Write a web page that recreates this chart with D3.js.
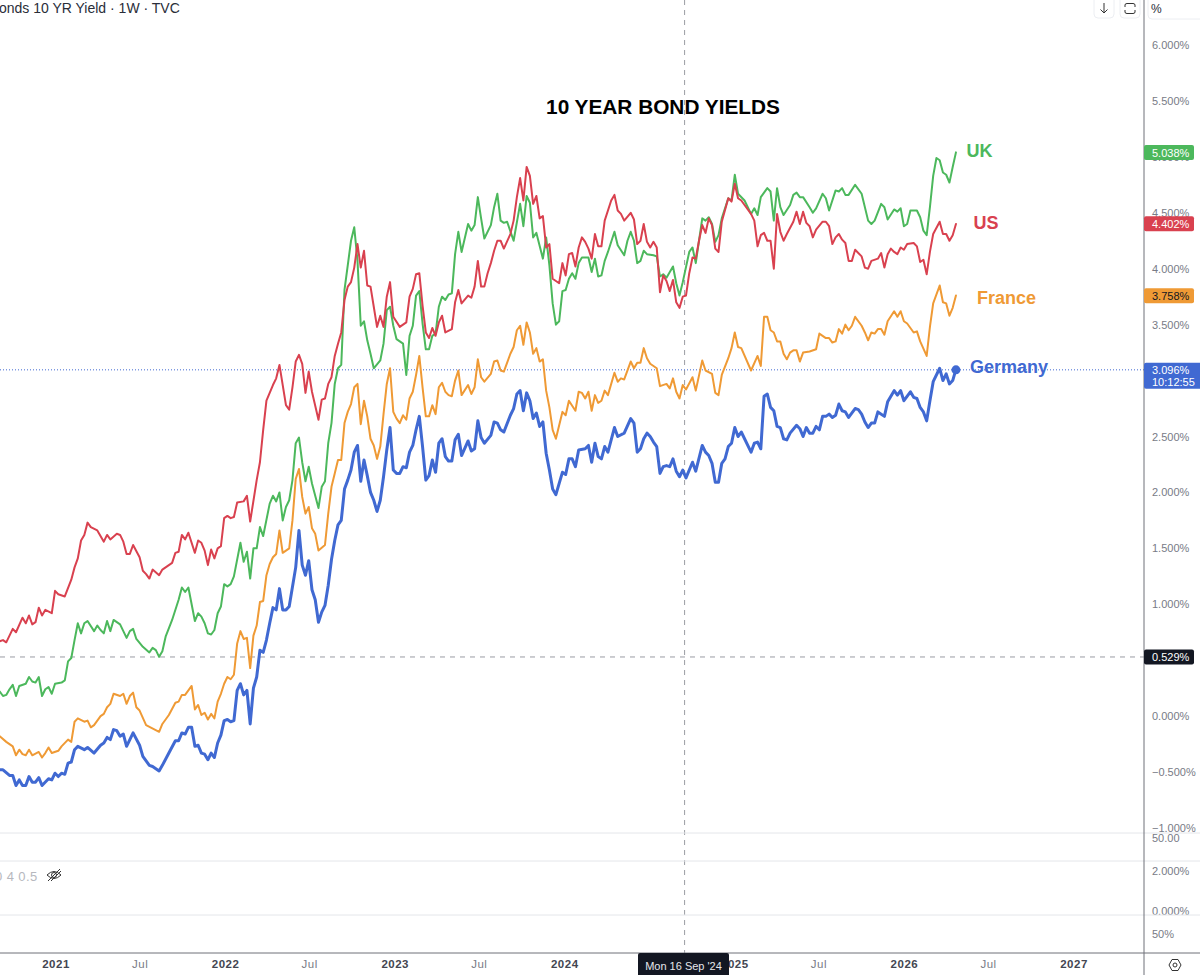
<!DOCTYPE html>
<html><head><meta charset="utf-8">
<script src="https://cdn.jsdelivr.net/npm/d3@7"></script>
<style>html,body{margin:0;padding:0;background:#fff;overflow:hidden}svg{display:block;font-family:"Liberation Sans",Arial,sans-serif}</style>
</head><body><svg id="c" width="1200" height="975"></svg>
<script>
// Series: [weeks since the first bar, 10-year yield %]
const firstBar = new Date(2020, 8, 3);
const usYield = [[0,.67],[1,.68],[2,.66],[4,.78],[5,.75],[7,.88],[8,.83],[9,.90],[10,.82],[11,.84],[12,.97],[13,.90],[14,.95],[16,.92],[17,1.12],[18,1.09],[20,1.07],[22,1.22],[23,1.33],[24,1.41],[25,1.57],[26,1.62],[27,1.73],[28,1.69],[30,1.66],[32,1.56],[33,1.62],[34,1.58],[36,1.63],[37,1.62],[38,1.56],[39,1.45],[40,1.45],[41,1.53],[43,1.42],[44,1.30],[45,1.27],[46,1.23],[47,1.31],[49,1.26],[50,1.31],[53,1.37],[54,1.46],[55,1.47],[56,1.62],[57,1.58],[58,1.64],[60,1.46],[61,1.57],[62,1.55],[63,1.48],[64,1.35],[65,1.49],[66,1.41],[67,1.50],[68,1.52],[69,1.77],[70,1.79],[71,1.77],[72,1.78],[73,1.91],[75,1.92],[76,1.97],[77,1.74],[79,2.11],[80,2.27],[81,2.56],[82,2.82],[83,2.89],[84,2.96],[85,3.02],[86,3.14],[88,2.78],[89,2.74],[90,2.94],[91,3.17],[92,3.23],[93,3.15],[94,2.89],[95,3.08],[96,2.90],[98,2.65],[99,2.83],[100,2.84],[101,2.97],[102,3.03],[103,3.22],[104,3.33],[105,3.43],[106,3.72],[107,3.84],[108,3.88],[109,4.01],[110,4.22],[111,4.01],[112,4.16],[113,3.85],[114,3.84],[115,3.66],[116,3.48],[117,3.58],[118,3.48],[119,3.75],[120,3.88],[121,3.57],[123,3.48],[125,3.52],[126,3.75],[127,3.82],[128,3.95],[129,3.96],[130,3.67],[131,3.43],[132,3.38],[133,3.47],[134,3.40],[135,3.52],[136,3.58],[137,3.43],[139,3.46],[140,3.70],[141,3.81],[142,3.69],[144,3.76],[145,3.74],[146,3.84],[147,4.07],[148,3.84],[149,3.84],[150,3.96],[151,4.05],[152,4.16],[153,4.25],[154,4.25],[155,4.18],[157,4.31],[158,4.43],[159,4.64],[160,4.81],[161,4.61],[162,4.91],[163,4.83],[164,4.58],[165,4.65],[166,4.45],[167,4.47],[168,4.19],[169,4.22],[170,3.91],[172,3.87],[173,4.05],[174,3.94],[175,4.13],[176,4.14],[177,4.02],[178,4.19],[179,4.28],[180,4.24],[181,4.18],[182,4.09],[183,4.31],[184,4.20],[185,4.20],[186,4.43],[188,4.61],[189,4.66],[190,4.52],[191,4.49],[192,4.43],[194,4.50],[195,4.44],[196,4.22],[197,4.25],[198,4.40],[199,4.24],[200,4.19],[201,4.24],[202,4.19],[203,3.79],[204,3.94],[205,3.89],[206,3.80],[207,3.90],[208,3.70],[209,3.65],[210,3.75],[211,3.76],[212,3.96],[213,4.10],[214,4.09],[215,4.25],[216,4.39],[217,4.32],[218,4.45],[219,4.39],[220,4.18],[221,4.15],[222,4.42],[224,4.63],[225,4.60],[226,4.76],[227,4.63],[228,4.61],[231,4.49],[232,4.43],[233,4.20],[234,4.30],[235,4.32],[236,4.25],[237,4.25],[238,4.00],[239,4.49],[240,4.33],[241,4.25],[242,4.31],[244,4.42],[245,4.51],[246,4.40],[247,4.51],[248,4.41],[249,4.38],[250,4.28],[251,4.35],[253,4.42],[254,4.42],[255,4.38],[256,4.22],[257,4.28],[258,4.31],[259,4.26],[260,4.23],[261,4.07],[262,4.07],[263,4.17],[265,4.11],[266,4.01],[267,4.00],[268,4.07],[270,4.09],[271,4.14],[272,4.01],[273,4.13],[274,4.18],[275,4.15],[276,4.13],[277,4.19],[278,4.17],[279,4.22],[281,4.23],[282,4.20],[283,4.06],[284,4.08],[285,3.95],[286,4.15],[287,4.31],[289,4.42],[290,4.31],[291,4.31],[292,4.25],[293,4.30],[294,4.40]];
const ukYield = [[0,.22],[1,.18],[2,.19],[3,.24],[4,.28],[5,.18],[6,.27],[8,.29],[9,.35],[10,.31],[11,.30],[12,.35],[13,.18],[14,.24],[15,.26],[16,.20],[17,.29],[19,.30],[20,.32],[21,.49],[22,.52],[23,.68],[24,.83],[25,.74],[26,.83],[27,.85],[29,.76],[30,.81],[31,.77],[32,.74],[33,.85],[34,.76],[35,.86],[37,.82],[39,.70],[40,.76],[41,.78],[42,.69],[44,.62],[46,.57],[47,.61],[48,.59],[49,.53],[50,.58],[51,.71],[53,.86],[55,1.04],[56,1.15],[57,1.11],[58,1.15],[60,.85],[61,.92],[62,.89],[63,.83],[64,.74],[65,.73],[66,.77],[67,.92],[68,.98],[69,1.18],[70,1.16],[71,1.18],[72,1.25],[74,1.55],[75,1.38],[76,1.47],[77,1.23],[78,1.50],[79,1.50],[80,1.69],[81,1.61],[83,1.90],[84,1.97],[85,1.92],[86,2.00],[87,1.75],[88,1.87],[89,1.93],[90,2.11],[91,2.44],[92,2.49],[93,2.27],[94,2.10],[95,2.23],[96,2.08],[98,1.86],[99,2.05],[100,2.10],[101,2.44],[102,2.62],[103,2.97],[104,3.11],[105,3.14],[106,3.81],[107,4.03],[108,4.25],[109,4.37],[110,4.07],[111,3.49],[112,3.53],[113,3.36],[114,3.24],[115,3.11],[117,3.18],[118,3.33],[119,3.63],[120,3.66],[121,3.49],[122,3.37],[124,3.33],[125,3.05],[126,3.40],[127,3.49],[128,3.76],[129,3.80],[130,3.51],[131,3.28],[132,3.28],[133,3.40],[134,3.42],[135,3.66],[136,3.75],[137,3.72],[138,3.77],[139,3.78],[140,4.13],[141,4.33],[142,4.15],[144,4.40],[145,4.34],[146,4.39],[147,4.64],[148,4.45],[149,4.27],[151,4.39],[152,4.55],[153,4.67],[154,4.43],[155,4.41],[156,4.42],[158,4.25],[160,4.58],[161,4.38],[162,4.65],[163,4.59],[164,4.28],[165,4.32],[167,4.09],[168,4.28],[169,4.03],[170,3.69],[171,3.50],[172,3.53],[173,3.80],[174,3.81],[175,3.91],[176,3.96],[177,3.91],[178,4.05],[179,4.10],[180,4.10],[181,4.10],[182,3.97],[183,4.09],[184,3.93],[185,3.94],[186,4.07],[187,4.15],[189,4.33],[190,4.21],[192,4.12],[193,4.25],[194,4.33],[195,4.25],[196,4.05],[197,4.07],[198,4.16],[199,4.13],[201,4.12],[202,4.11],[203,3.93],[204,3.95],[205,3.92],[207,4.02],[208,3.87],[209,3.76],[210,3.88],[212,4.15],[213,4.19],[214,4.05],[215,4.25],[216,4.45],[217,4.43],[218,4.46],[219,4.40],[220,4.24],[221,4.30],[222,4.45],[224,4.63],[225,4.61],[226,4.84],[227,4.67],[229,4.61],[231,4.49],[232,4.54],[233,4.48],[234,4.64],[235,4.68],[236,4.72],[237,4.69],[238,4.43],[239,4.72],[240,4.55],[241,4.48],[243,4.57],[244,4.66],[245,4.68],[246,4.64],[247,4.64],[249,4.55],[250,4.50],[251,4.54],[253,4.67],[254,4.63],[255,4.52],[257,4.70],[258,4.69],[259,4.72],[260,4.66],[261,4.66],[263,4.75],[265,4.67],[267,4.43],[268,4.40],[269,4.43],[271,4.58],[272,4.55],[273,4.44],[275,4.53],[276,4.51],[277,4.54],[278,4.38],[279,4.40],[280,4.52],[282,4.52],[283,4.46],[284,4.34],[285,4.30],[286,4.55],[287,4.83],[288,4.99],[289,4.97],[290,4.86],[291,4.84],[292,4.77],[293,4.91],[294,5.04]];
const franceYield = [[0,-.18],[2,-.23],[3,-.25],[4,-.27],[5,-.35],[6,-.30],[7,-.34],[8,-.35],[9,-.30],[10,-.35],[12,-.32],[13,-.37],[14,-.33],[15,-.28],[16,-.33],[18,-.31],[19,-.27],[21,-.21],[22,-.23],[23,-.05],[24,-.02],[26,-.05],[27,-.04],[28,-.10],[29,-.08],[31,0],[32,.02],[33,.08],[34,.11],[35,.20],[37,.18],[38,.20],[39,.11],[40,.18],[41,.21],[42,.08],[43,.05],[45,-.08],[49,-.14],[50,-.07],[52,.01],[54,.12],[55,.13],[56,.19],[57,.19],[59,.27],[60,.06],[61,.10],[62,.01],[63,.03],[64,-.03],[65,.02],[66,-.02],[67,.13],[68,.20],[69,.29],[70,.35],[71,.33],[72,.37],[73,.65],[74,.76],[75,.69],[76,.70],[77,.43],[78,.72],[79,.81],[80,1.02],[81,1.03],[82,1.26],[83,1.36],[84,1.42],[85,1.45],[86,1.66],[87,1.46],[89,1.50],[90,1.75],[91,2.12],[92,2.21],[93,1.96],[94,1.81],[95,1.87],[96,1.68],[97,1.63],[98,1.48],[100,1.53],[101,1.81],[102,2.05],[103,2.17],[104,2.29],[105,2.29],[106,2.62],[107,2.72],[108,2.79],[109,2.94],[110,2.97],[111,2.61],[112,2.82],[113,2.68],[114,2.48],[115,2.42],[116,2.30],[117,2.41],[118,2.70],[119,2.97],[120,3.11],[121,2.72],[122,2.66],[123,2.62],[124,2.69],[125,2.65],[126,2.84],[127,2.90],[128,3.05],[129,3.22],[130,2.94],[131,2.68],[132,2.68],[133,2.78],[134,2.70],[135,2.94],[136,2.98],[137,2.90],[138,2.87],[139,2.86],[140,3.00],[141,3.09],[142,2.87],[144,2.96],[145,2.88],[146,2.94],[147,3.19],[148,3.03],[149,2.99],[151,3.06],[152,3.17],[153,3.18],[154,3.09],[155,3.08],[157,3.24],[158,3.30],[159,3.45],[160,3.49],[161,3.32],[162,3.52],[163,3.43],[164,3.24],[165,3.29],[166,3.17],[167,3.19],[168,2.91],[169,2.76],[170,2.56],[171,2.48],[173,2.72],[174,2.69],[175,2.82],[177,2.73],[178,2.90],[179,2.89],[180,2.84],[181,2.90],[182,2.73],[183,2.87],[184,2.80],[185,2.82],[186,2.91],[187,2.87],[189,3.07],[190,2.99],[191,3.02],[192,3.01],[194,3.17],[195,3.11],[196,3.16],[197,3.16],[198,3.29],[199,3.20],[200,3.15],[202,3.11],[203,2.95],[205,2.97],[206,2.93],[207,3.02],[208,2.90],[209,2.84],[210,2.96],[211,2.92],[213,3.03],[214,2.91],[216,3.18],[217,3.09],[219,3.06],[220,2.89],[221,2.87],[222,3.05],[224,3.20],[225,3.29],[226,3.43],[227,3.30],[228,3.29],[231,3.09],[233,3.22],[234,3.13],[235,3.57],[236,3.57],[237,3.45],[238,3.43],[239,3.35],[240,3.35],[241,3.24],[242,3.19],[243,3.25],[244,3.27],[245,3.27],[246,3.17],[247,3.25],[249,3.26],[251,3.28],[252,3.42],[254,3.38],[255,3.38],[256,3.34],[257,3.35],[258,3.46],[259,3.42],[260,3.50],[261,3.45],[262,3.49],[263,3.57],[265,3.49],[266,3.43],[267,3.36],[268,3.43],[269,3.42],[270,3.46],[271,3.46],[272,3.41],[273,3.53],[275,3.62],[276,3.57],[277,3.62],[278,3.53],[279,3.51],[281,3.43],[282,3.44],[283,3.35],[285,3.22],[286,3.48],[287,3.69],[289,3.85],[290,3.70],[291,3.69],[292,3.58],[293,3.65],[294,3.76]];
const germanyYield = [[0,-.48],[1,-.48],[3,-.53],[4,-.53],[5,-.62],[6,-.57],[7,-.62],[8,-.62],[9,-.54],[10,-.59],[11,-.59],[12,-.55],[13,-.62],[15,-.56],[16,-.57],[17,-.51],[18,-.54],[19,-.51],[20,-.52],[21,-.42],[22,-.41],[23,-.30],[24,-.27],[26,-.30],[27,-.28],[29,-.33],[31,-.26],[32,-.24],[33,-.19],[34,-.21],[35,-.12],[36,-.13],[37,-.18],[38,-.16],[39,-.27],[41,-.15],[43,-.26],[44,-.36],[46,-.44],[47,-.45],[48,-.47],[49,-.49],[50,-.44],[52,-.33],[54,-.22],[55,-.22],[56,-.15],[57,-.16],[58,-.10],[59,-.10],[60,-.27],[61,-.26],[62,-.33],[63,-.34],[64,-.39],[65,-.33],[66,-.37],[67,-.24],[68,-.17],[69,-.04],[70,-.03],[71,-.05],[72,-.04],[73,.23],[74,.29],[75,.19],[76,.23],[77,-.07],[78,.25],[79,.35],[80,.59],[81,.57],[82,.68],[83,.83],[84,.97],[85,.95],[86,1.14],[87,.95],[88,.95],[89,.98],[91,1.33],[92,1.66],[93,1.35],[94,1.26],[95,1.39],[96,1.13],[97,1.04],[98,.84],[99,.93],[100,.99],[101,1.17],[102,1.40],[103,1.57],[104,1.71],[105,1.75],[106,2.03],[107,2.11],[108,2.20],[109,2.36],[110,2.42],[111,2.10],[112,2.29],[113,2.15],[114,2.00],[115,1.93],[116,1.83],[117,1.93],[118,2.14],[119,2.38],[120,2.58],[121,2.20],[122,2.17],[123,2.17],[124,2.23],[125,2.22],[126,2.36],[127,2.42],[128,2.56],[129,2.68],[130,2.41],[131,2.11],[132,2.15],[133,2.29],[134,2.18],[135,2.44],[136,2.48],[137,2.32],[138,2.28],[139,2.28],[140,2.47],[141,2.52],[142,2.33],[144,2.46],[145,2.37],[146,2.39],[147,2.64],[148,2.49],[149,2.44],[151,2.51],[152,2.63],[153,2.62],[154,2.56],[155,2.54],[157,2.69],[158,2.75],[159,2.88],[160,2.91],[161,2.73],[162,2.89],[163,2.82],[164,2.66],[165,2.71],[166,2.59],[167,2.63],[168,2.35],[169,2.20],[170,2.03],[171,1.98],[173,2.18],[174,2.16],[175,2.30],[176,2.30],[177,2.23],[178,2.38],[180,2.39],[181,2.42],[182,2.27],[183,2.44],[184,2.32],[185,2.30],[186,2.41],[187,2.36],[189,2.58],[190,2.50],[192,2.53],[194,2.66],[195,2.62],[196,2.36],[197,2.39],[198,2.48],[199,2.53],[200,2.50],[201,2.45],[202,2.41],[203,2.17],[204,2.23],[205,2.24],[206,2.23],[207,2.30],[208,2.19],[209,2.14],[210,2.20],[211,2.13],[213,2.27],[214,2.19],[216,2.42],[217,2.36],[218,2.33],[219,2.26],[220,2.09],[221,2.09],[222,2.26],[223,2.30],[224,2.41],[225,2.44],[226,2.58],[227,2.50],[228,2.54],[231,2.36],[232,2.44],[233,2.45],[234,2.39],[235,2.86],[236,2.88],[237,2.76],[238,2.73],[239,2.59],[240,2.58],[241,2.48],[242,2.47],[243,2.53],[245,2.60],[246,2.57],[247,2.50],[248,2.58],[249,2.53],[250,2.53],[251,2.59],[252,2.56],[253,2.68],[254,2.68],[255,2.70],[256,2.67],[257,2.69],[258,2.79],[259,2.73],[260,2.72],[261,2.67],[263,2.75],[264,2.74],[265,2.70],[266,2.63],[267,2.58],[268,2.62],[269,2.62],[270,2.72],[272,2.68],[273,2.81],[275,2.91],[276,2.87],[277,2.91],[278,2.82],[280,2.90],[281,2.85],[282,2.84],[283,2.76],[284,2.72],[285,2.64],[286,2.82],[287,2.99],[289,3.11],[290,3.00],[291,3.06],[292,2.97],[293,3.00],[294,3.10]];

const seriesNames = ["France","UK","US","Germany"];
const seriesColors = ["#ef9a35","#4cb85c","#d9414f","#4069d2"];
const seriesWidths = [2,2,2,3];
const seriesLabels = [[1006.5,298],[979.5,151],[986,223],[1009,367]];

const yTicks = [6,5.5,5,4.5,4,3.5,2.5,2,1.5,1,0,-.5,-1];
const timeTicks = [[2021,0,"2021",1],[2021,6,"Jul",0],[2022,0,"2022",1],[2022,6,"Jul",0],[2023,0,"2023",1],[2023,6,"Jul",0],[2024,0,"2024",1],[2025,0,"2025",1],[2025,6,"Jul",0],[2026,0,"2026",1],[2026,6,"Jul",0],[2027,0,"2027",1]];
const tagValues = [[5.038,"#4cb85c","#fff","5.038%",null],[4.402,"#d9414f","#fff","4.402%",null],[3.758,"#ef9a35","#131722","3.758%",null],[3.096,"#4069d2","#fff","3.096%","10:12:55"],[.529,"#131722","#fff","0.529%",null]];
const crossDate = new Date(2024,8,16), crossValue = .529, lastValue = 3.096;
const paneLines = [833,861,915];
const paneLabels = [["50.00",838],["2.000%",871],["0.000%",911],["50%",934]];

const svg = d3.select("#c");
const x = d3.scaleTime().domain([new Date(2021,0,1),new Date(2027,0,1)]).range([55.5,1073.5]);
const y = d3.scaleLinear().domain([6,-1]).range([45,828]);
const axisX = 1144, axisY = 953;
const grey = "#787b86";
const toDate = w => d3.timeDay.offset(firstBar, w*7);

// Crosshairs and last-price line
svg.append("line").attr("x1",x(crossDate)).attr("x2",x(crossDate)).attr("y1",0).attr("y2",axisY).attr("stroke","#9a9ca3").attr("stroke-width",1).attr("stroke-dasharray","5 5");
svg.append("line").attr("x1",0).attr("x2",axisX).attr("y1",y(crossValue)).attr("y2",y(crossValue)).attr("stroke","#9a9ca3").attr("stroke-width",1).attr("stroke-dasharray","5 5");
svg.append("line").attr("x1",0).attr("x2",axisX).attr("y1",y(lastValue)).attr("y2",y(lastValue)).attr("stroke","#4069d2").attr("stroke-width",1).attr("stroke-dasharray","1 2");

// Lines
const line = d3.line().x(d=>x(toDate(d[0]))).y(d=>y(d[1])).curve(d3.curveLinear);
const seriesData = [franceYield,ukYield,usYield,germanyYield];
seriesData.forEach((s,i)=>{
  svg.append("path").datum(s).attr("d",line).attr("fill","none").attr("stroke",seriesColors[i]).attr("stroke-width",seriesWidths[i]).attr("stroke-linejoin","round").attr("stroke-linecap","round");
});
svg.append("circle").attr("cx",x(toDate(294))).attr("cy",y(lastValue)).attr("r",4.5).attr("fill","#4069d2");

// Series labels and title
seriesNames.forEach((n,i)=>{
  svg.append("text").attr("x",seriesLabels[i][0]).attr("y",seriesLabels[i][1]).attr("text-anchor","middle").attr("dominant-baseline","central").attr("font-size",18).attr("font-weight",700).attr("fill",seriesColors[i]).text(n);
});
svg.append("text").attr("x",663).attr("y",106).attr("text-anchor","middle").attr("dominant-baseline","central").attr("font-size",20.8).attr("font-weight",700).attr("fill","#000").text("10 YEAR BOND YIELDS");

// Header
svg.append("text").attr("x",-1).attr("y",8).attr("dominant-baseline","central").attr("font-size",14).attr("fill","#2a2e39").text("onds 10 YR Yield · 1W · TVC");
[[1094,20],[1120,20]].forEach(b=>svg.append("rect").attr("x",b[0]).attr("y",-6).attr("width",b[1]).attr("height",24).attr("rx",4).attr("fill","#fff").attr("stroke","#eceef2"));
svg.append("path").attr("d","M1104 3V13M1100.5 9.5L1104 13L1107.5 9.5").attr("fill","none").attr("stroke","#333");
svg.append("path").attr("d","M1125 7V5Q1125 3.5 1127 3.5H1133Q1135 3.5 1135 5V7M1125 10V12Q1125 13.5 1127 13.5H1133Q1135 13.5 1135 12V10").attr("fill","none").attr("stroke","#333");
svg.append("rect").attr("x",1148).attr("y",-6).attr("width",60).attr("height",25).attr("rx",4).attr("fill","#fff").attr("stroke","#eceef2");
svg.append("text").attr("x",1151).attr("y",9).attr("dominant-baseline","central").attr("font-size",12).attr("fill","#2a2e39").text("%");

// Price axis
const yAxis = d3.axisRight(y).tickValues(yTicks).tickSize(0).tickPadding(8).tickFormat(d=>d3.format(".3f")(d)+"%");
const gy = svg.append("g").attr("transform",`translate(${axisX},0)`).call(yAxis);
gy.select(".domain").remove();
gy.selectAll("text").attr("font-size",11).attr("font-family","'Liberation Sans',Arial,sans-serif").attr("fill",grey);

// Indicator pane labels
paneLabels.forEach(p=>svg.append("text").attr("x",axisX+8).attr("y",p[1]).attr("dominant-baseline","central").attr("font-size",11).attr("fill",grey).text(p[0]));
svg.append("rect").attr("x",axisX).attr("y",915).attr("width",56).attr("height",12).attr("fill","#fff");
paneLines.forEach(v=>svg.append("line").attr("x1",0).attr("x2",1200).attr("y1",v).attr("y2",v).attr("stroke","#e4e6ea").attr("stroke-width",1));
svg.append("text").attr("x",-5).attr("y",876).attr("dominant-baseline","central").attr("font-size",13).attr("letter-spacing",.4).attr("fill","#b6b8be").text("0 4 0.5");
svg.append("path").attr("d","M47 875Q54 868 61 875Q54 882 47 875ZM48 881L60 869M51 881L61 871").attr("fill","none").attr("stroke","#333");
svg.append("circle").attr("cx",54).attr("cy",875).attr("r",2.5).attr("fill","none").attr("stroke","#333");

// Axes frames
svg.append("line").attr("x1",axisX).attr("x2",axisX).attr("y1",0).attr("y2",975).attr("stroke","#6f7178").attr("stroke-width",1);
svg.append("line").attr("x1",0).attr("x2",1200).attr("y1",axisY).attr("y2",axisY).attr("stroke","#6f7178").attr("stroke-width",1);

// Price tags
tagValues.forEach(t=>{
  const h = t[4]?26:15, cy = y(t[0]), top = t[4]?cy-7:cy-7.5;
  svg.append("rect").attr("x",axisX).attr("y",top).attr("width",t[4]?60:50).attr("height",h).attr("rx",2).attr("fill",t[1]);
  svg.append("text").attr("x",axisX+8).attr("y",cy).attr("dominant-baseline","central").attr("font-size",11).attr("fill",t[2]).text(t[3]);
  if(t[4]) svg.append("text").attr("x",axisX+8).attr("y",cy+12).attr("dominant-baseline","central").attr("font-size",11).attr("fill",t[2]).text(t[4]);
});

// Time axis
const xTickDates = timeTicks.map(t=>new Date(t[0],t[1],1));
const xAxis = d3.axisBottom(x).tickValues(xTickDates).tickSize(0).tickPadding(7).tickFormat((d,i)=>timeTicks[i][2]);
const gx = svg.append("g").attr("transform",`translate(0,${axisY})`).call(xAxis);
gx.select(".domain").remove();
gx.selectAll("text").attr("font-size",11.5).attr("font-family","'Liberation Sans',Arial,sans-serif").attr("letter-spacing",.5)
  .attr("font-weight",(d,i)=>timeTicks[i][3]?700:400).attr("fill",(d,i)=>timeTicks[i][3]?"#434651":grey);

// Crosshair date tag
svg.append("rect").attr("x",638).attr("y",953).attr("width",91).attr("height",25).attr("rx",2).attr("fill","#131722");
svg.append("text").attr("x",683.5).attr("y",966).attr("text-anchor","middle").attr("dominant-baseline","central").attr("font-size",11).attr("fill","#e6e7ea").text(d3.timeFormat("%a %e %b '%y")(crossDate).replace(/\s+/g," "));

// Settings icon
svg.append("path").attr("d","M1169 965L1172 959.5H1178L1181 965L1178 970.5H1172Z").attr("fill","none").attr("stroke","#333");
svg.append("circle").attr("cx",1175).attr("cy",965).attr("r",2).attr("fill","none").attr("stroke","#333");
</script></body></html>
